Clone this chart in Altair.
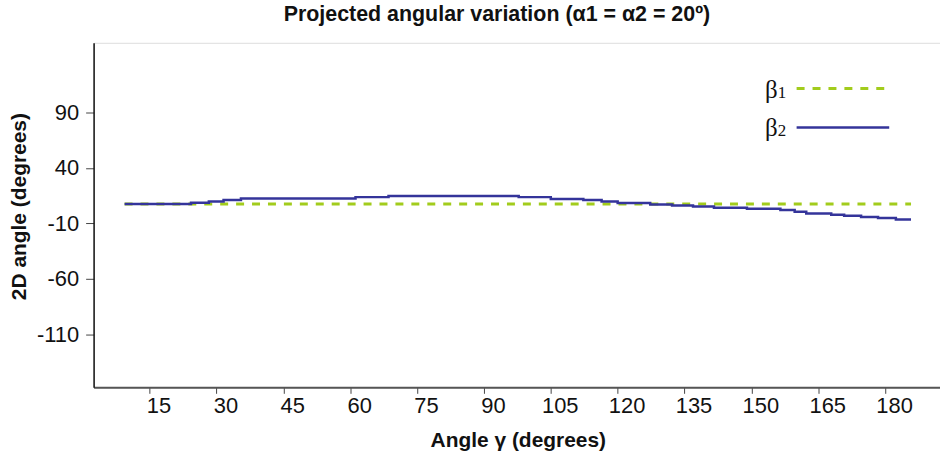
import altair as alt
import pandas as pd

# ---- data ----
beta1_x = [9.4, 185.8]
beta1_y = [7.4, 7.4]

beta2_x = [9.4, 24.3, 28.3, 31.6, 35.5, 61.2, 68.6, 97.8, 105.0, 112.3, 116.4, 120.0,
           127.3, 132.2, 136.9, 141.6, 149.0, 156.5, 159.7, 162.3, 167.9, 170.8,
           174.6, 178.4, 182.4, 185.8]
beta2_y = [7.4, 8.6, 9.8, 11.2, 12.5, 13.7, 14.8, 13.7, 12.1, 11.0, 9.8, 8.3,
           7.1, 6.2, 5.3, 4.1, 3.2, 2.0, 0.5, -1.0, -2.2, -3.1,
           -4.3, -5.2, -6.4, -6.4]

x_ticks = [15, 30, 45, 60, 75, 90, 105, 120, 135, 150, 165, 180]
y_ticks = [90, 40, -10, -60, -110]
legend_symbol = ["β", "β"]
legend_index = ["1", "2"]

title_text = "Projected angular variation (α1 = α2 = 20º)"
x_title = "Angle  γ  (degrees)"
y_title = "2D angle (degrees)"

C1 = "#a2cc1c"
C2 = "#34349a"

df1 = pd.DataFrame({"x": beta1_x, "y": beta1_y})
df2 = pd.DataFrame({"x": beta2_x, "y": beta2_y})

xscale = alt.Scale(domain=[2.45, 192.3], nice=False, zero=False)
yscale = alt.Scale(domain=[-158, 153], nice=False, zero=False)

xaxis = alt.Axis(values=x_ticks, title=x_title, grid=False, tickSize=6,
                 tickColor="#444", domainColor="#555", domainWidth=2,
                 labelFontSize=22, labelFont="Liberation Sans", labelColor="#111",
                 labelPadding=2, labelFlush=False, labelOffset=9,
                 titleFont="Liberation Sans", titleFontSize=21, titleFontWeight="bold",
                 titleX=426, titleY=53, titleBaseline="middle", titleColor="#111")
yaxis = alt.Axis(values=y_ticks, title=y_title, grid=False, tickSize=8,
                 tickColor="#444", domainColor="#111", domainWidth=1.5,
                 labelFontSize=22, labelFont="Liberation Sans", labelColor="#111",
                 labelPadding=7, labelExpr="toString(datum.value)",
                 titleFont="Liberation Sans", titleFontSize=21, titleFontWeight="bold",
                 titleX=-74, titleY=164, titleBaseline="middle", titleAlign="center",
                 titleAngle=-90, titleColor="#111")

line1 = alt.Chart(df1).mark_line(color=C1, strokeWidth=3, strokeDash=[8, 8]).encode(
    x=alt.X("x:Q", scale=xscale, axis=xaxis),
    y=alt.Y("y:Q", scale=yscale, axis=yaxis),
)
line2 = alt.Chart(df2).mark_line(color=C2, strokeWidth=2.5, interpolate="step-after").encode(
    x=alt.X("x:Q", scale=xscale),
    y=alt.Y("y:Q", scale=yscale),
)

# legend (drawn inside the plot, top right)
def legend_entry(i, ypix, width, dash):
    d = pd.DataFrame({"s": [legend_symbol[i]], "n": [legend_index[i]]})
    base = alt.Chart(d)
    rule_kw = dict(color=[C1, C2][i], strokeWidth=3 if dash else 2.5)
    if dash:
        rule_kw["strokeDash"] = [8, 8]
    rule = base.mark_rule(**rule_kw).encode(
        x=alt.value(706), x2=alt.value(706 + width), y=alt.value(ypix))
    sym = base.mark_text(align="right", baseline="middle", font="Liberation Serif",
                         fontSize=25, color="#111").encode(
        x=alt.value(687), y=alt.value(ypix + 1), text="s:N")
    idx = base.mark_text(align="left", baseline="middle", font="Liberation Serif",
                         fontSize=17, color="#111").encode(
        x=alt.value(687), y=alt.value(ypix + 4), text="n:N")
    return [rule, sym, idx]

layers = [line1, line2] + legend_entry(0, 46, 90, True) + legend_entry(1, 85, 93, False)

chart = alt.layer(*layers).properties(
    width=850, height=346,
    title=alt.TitleParams(title_text, font="Liberation Sans", fontSize=21.5, fontWeight="bold",
                          color="#111", anchor="middle", dx=-20, offset=16, dy=16,
                          baseline="alphabetic"),
    autosize=alt.AutoSizeParams(type="none"),
    padding={"left": 94, "top": 42, "right": 0, "bottom": 76},
).configure_view(stroke="#555", strokeWidth=2).configure(background="white")

chart.save("out.html", embed_options={"renderer": "svg", "actions": False})
